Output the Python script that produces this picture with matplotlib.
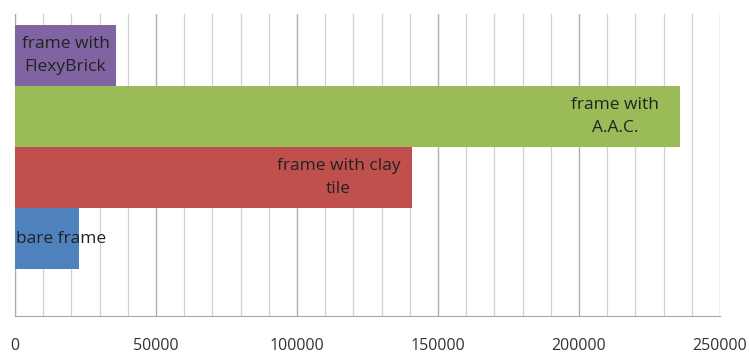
import matplotlib.pyplot as plt
from matplotlib.ticker import MultipleLocator

labels = ["bare frame", "frame with clay\ntile", "frame with\nA.A.C.", "frame with\nFlexyBrick"]
values = [22800, 140700, 235800, 35800]
colors = ["#4F81BD", "#C0504D", "#9BBB59", "#8064A2"]

plt.rcParams['font.family'] = ['Open Sans', 'DejaVu Sans']

fig = plt.figure(figsize=(7.49, 3.54), dpi=100)
ax = fig.add_axes([0.02, 0.1073, 0.9413, 0.8532])

pos = list(range(len(values)))
ax.barh(pos, values, height=1.0, color=colors, zorder=3)

ax.set_xlim(0, 250000)
ax.set_ylim(-1.27, 3.68)
ax.xaxis.set_major_locator(MultipleLocator(50000))
ax.xaxis.set_minor_locator(MultipleLocator(10000))
ax.grid(which='minor', axis='x', color='#d0d0d0', linewidth=0.9, zorder=0)
ax.grid(which='major', axis='x', color='#b0b0b0', linewidth=1.0, zorder=0)
ax.set_yticks([])
ax.tick_params(axis='x', which='both', length=0, pad=16, labelsize=11.5, labelcolor='#333333')

for s in ['top', 'right']:
    ax.spines[s].set_visible(False)
for s in ['left', 'bottom']:
    ax.spines[s].set_color('#a8a8a8')

# data labels: inside end, bare frame starts at the axis
txt = dict(fontsize=12.5, color='#222222', va='center', linespacing=1.55, zorder=4)
ax.text(200, pos[0], labels[0], ha='left', **txt)
ax.text(values[1] - 26000, pos[1], labels[1], ha='center', **txt)
ax.text(values[2] - 23000, pos[2], labels[2], ha='center', **txt)
ax.text(values[3] / 2, pos[3], labels[3], ha='center', **txt)

fig.savefig("out.png", dpi=100)
